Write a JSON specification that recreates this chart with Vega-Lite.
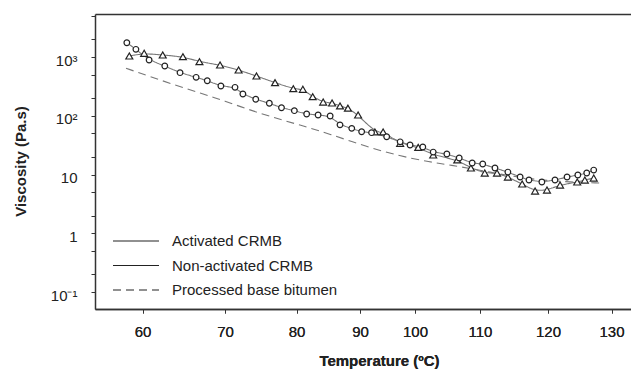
{
  "$schema": "https://vega.github.io/schema/vega-lite/v6.json",
  "width": 536,
  "height": 295,
  "autosize": {"type": "none"},
  "padding": {"left": 95, "top": 14, "right": 0, "bottom": 62},
  "background": "white",
  "config": {"view": {"stroke": null}, "font": "Liberation Sans"},
  "data": {"values": [
    {"series": "Activated CRMB", "temp": 58.4, "visc": 1040},
    {"series": "Activated CRMB", "temp": 60.2, "visc": 1156},
    {"series": "Activated CRMB", "temp": 62.45, "visc": 1081},
    {"series": "Activated CRMB", "temp": 64.9, "visc": 1012},
    {"series": "Activated CRMB", "temp": 66.9, "visc": 832},
    {"series": "Activated CRMB", "temp": 69.4, "visc": 731},
    {"series": "Activated CRMB", "temp": 71.9, "visc": 601},
    {"series": "Activated CRMB", "temp": 74.4, "visc": 475},
    {"series": "Activated CRMB", "temp": 77.0, "visc": 366},
    {"series": "Activated CRMB", "temp": 79.55, "visc": 289},
    {"series": "Activated CRMB", "temp": 81.0, "visc": 282},
    {"series": "Activated CRMB", "temp": 82.55, "visc": 211},
    {"series": "Activated CRMB", "temp": 84.2, "visc": 171},
    {"series": "Activated CRMB", "temp": 85.6, "visc": 165},
    {"series": "Activated CRMB", "temp": 86.85, "visc": 147},
    {"series": "Activated CRMB", "temp": 88.1, "visc": 135},
    {"series": "Activated CRMB", "temp": 89.7, "visc": 103},
    {"series": "Activated CRMB", "temp": 92.7, "visc": 53},
    {"series": "Activated CRMB", "temp": 94.2, "visc": 53},
    {"series": "Activated CRMB", "temp": 97.3, "visc": 34},
    {"series": "Activated CRMB", "temp": 100.5, "visc": 29},
    {"series": "Activated CRMB", "temp": 102.8, "visc": 21.5},
    {"series": "Activated CRMB", "temp": 106.5, "visc": 17.7},
    {"series": "Activated CRMB", "temp": 108.6, "visc": 12.9},
    {"series": "Activated CRMB", "temp": 110.7, "visc": 10.6},
    {"series": "Activated CRMB", "temp": 112.5, "visc": 10.6},
    {"series": "Activated CRMB", "temp": 114.1, "visc": 9.06},
    {"series": "Activated CRMB", "temp": 116.2, "visc": 6.89},
    {"series": "Activated CRMB", "temp": 118.1, "visc": 5.23},
    {"series": "Activated CRMB", "temp": 119.85, "visc": 5.44},
    {"series": "Activated CRMB", "temp": 121.9, "visc": 6.62},
    {"series": "Activated CRMB", "temp": 124.6, "visc": 7.45},
    {"series": "Activated CRMB", "temp": 125.8, "visc": 8.05},
    {"series": "Activated CRMB", "temp": 127.2, "visc": 8.71},
    {"series": "Non-activated CRMB", "temp": 58.1, "visc": 1750},
    {"series": "Non-activated CRMB", "temp": 59.2, "visc": 1352},
    {"series": "Non-activated CRMB", "temp": 60.8, "visc": 889},
    {"series": "Non-activated CRMB", "temp": 62.7, "visc": 703},
    {"series": "Non-activated CRMB", "temp": 64.55, "visc": 541},
    {"series": "Non-activated CRMB", "temp": 66.5, "visc": 451},
    {"series": "Non-activated CRMB", "temp": 67.85, "visc": 395},
    {"series": "Non-activated CRMB", "temp": 69.5, "visc": 321},
    {"series": "Non-activated CRMB", "temp": 71.4, "visc": 305},
    {"series": "Non-activated CRMB", "temp": 72.5, "visc": 235},
    {"series": "Non-activated CRMB", "temp": 74.3, "visc": 191},
    {"series": "Non-activated CRMB", "temp": 76.2, "visc": 163},
    {"series": "Non-activated CRMB", "temp": 77.9, "visc": 137},
    {"series": "Non-activated CRMB", "temp": 79.7, "visc": 122},
    {"series": "Non-activated CRMB", "temp": 81.6, "visc": 107},
    {"series": "Non-activated CRMB", "temp": 83.4, "visc": 103},
    {"series": "Non-activated CRMB", "temp": 85.3, "visc": 99},
    {"series": "Non-activated CRMB", "temp": 86.85, "visc": 70},
    {"series": "Non-activated CRMB", "temp": 88.7, "visc": 61},
    {"series": "Non-activated CRMB", "temp": 90.3, "visc": 53.5},
    {"series": "Non-activated CRMB", "temp": 92.1, "visc": 51.5},
    {"series": "Non-activated CRMB", "temp": 94.85, "visc": 44},
    {"series": "Non-activated CRMB", "temp": 97.3, "visc": 36},
    {"series": "Non-activated CRMB", "temp": 99.1, "visc": 31.8},
    {"series": "Non-activated CRMB", "temp": 101.2, "visc": 29.4},
    {"series": "Non-activated CRMB", "temp": 102.8, "visc": 24.1},
    {"series": "Non-activated CRMB", "temp": 104.9, "visc": 22.3},
    {"series": "Non-activated CRMB", "temp": 106.8, "visc": 19.1},
    {"series": "Non-activated CRMB", "temp": 108.8, "visc": 15.7},
    {"series": "Non-activated CRMB", "temp": 110.4, "visc": 15.1},
    {"series": "Non-activated CRMB", "temp": 112.2, "visc": 12.9},
    {"series": "Non-activated CRMB", "temp": 114.1, "visc": 11.0},
    {"series": "Non-activated CRMB", "temp": 115.9, "visc": 9.06},
    {"series": "Non-activated CRMB", "temp": 117.2, "visc": 8.05},
    {"series": "Non-activated CRMB", "temp": 119.1, "visc": 7.45},
    {"series": "Non-activated CRMB", "temp": 121.1, "visc": 8.05},
    {"series": "Non-activated CRMB", "temp": 123.0, "visc": 9.06},
    {"series": "Non-activated CRMB", "temp": 124.7, "visc": 9.8},
    {"series": "Non-activated CRMB", "temp": 126.1, "visc": 10.6},
    {"series": "Non-activated CRMB", "temp": 127.2, "visc": 11.9},
    {"series": "Processed base bitumen", "temp": 58.0, "visc": 643},
    {"series": "Processed base bitumen", "temp": 60.9, "visc": 466},
    {"series": "Processed base bitumen", "temp": 63.9, "visc": 334},
    {"series": "Processed base bitumen", "temp": 67.0, "visc": 244},
    {"series": "Processed base bitumen", "temp": 70.0, "visc": 178},
    {"series": "Processed base bitumen", "temp": 73.5, "visc": 125},
    {"series": "Processed base bitumen", "temp": 77.0, "visc": 91.6},
    {"series": "Processed base bitumen", "temp": 80.55, "visc": 69.7},
    {"series": "Processed base bitumen", "temp": 85.25, "visc": 48.9},
    {"series": "Processed base bitumen", "temp": 91.3, "visc": 29.4},
    {"series": "Processed base bitumen", "temp": 97.3, "visc": 20.6},
    {"series": "Processed base bitumen", "temp": 102.3, "visc": 16.3},
    {"series": "Processed base bitumen", "temp": 105.4, "visc": 14.5},
    {"series": "Processed base bitumen", "temp": 110.0, "visc": 11.9},
    {"series": "Processed base bitumen", "temp": 114.4, "visc": 9.42},
    {"series": "Processed base bitumen", "temp": 118.8, "visc": 8.05},
    {"series": "Processed base bitumen", "temp": 123.5, "visc": 7.45},
    {"series": "Processed base bitumen", "temp": 128.2, "visc": 7.16}
  ]},
  "encoding": {
    "x": {
      "field": "temp", "type": "quantitative",
      "scale": {"type": "linear", "domain": [54.24, 60, 70, 80, 90, 100, 110, 120, 130, 133], "range": [0, 47.5, 130, 201.5, 265, 320, 385, 453, 516.5, 536], "nice": false, "zero": false},
      "axis": {
        "title": "Temperature (ºC)", "values": [60, 70, 80, 90, 100, 110, 120, 130],
        "grid": false, "tickSize": 4, "tickColor": "#333", "domainColor": "#333", "domainWidth": 1.5,
        "labelFontSize": 15, "labelColor": "#222", "labelPadding": 11, "labelFont": "Liberation Sans",
        "titleFontSize": 15, "titleFontWeight": "bold", "titleColor": "#222", "titleFont": "Liberation Sans",
        "titleX": 284, "titleY": 44, "titleAlign": "center", "titleBaseline": "top"
      }
    },
    "y": {
      "field": "visc", "type": "quantitative",
      "scale": {"type": "log", "domain": [0.0514, 5395], "nice": false},
      "axis": {
        "title": "Viscosity (Pa.s)",
        "values": [0.1, 0.2, 0.5, 1, 2, 5, 10, 20, 50, 100, 200, 500, 1000, 2000, 5000],
        "labelExpr": "datum.value == 1000 ? '10³' : datum.value == 100 ? '10²' : datum.value == 10 ? '10' : datum.value == 1 ? '1' : datum.value == 0.1 ? '10⁻¹' : ''",
        "grid": false, "tickSize": 4, "tickColor": "#333", "domainColor": "#333", "domainWidth": 1.5,
        "labelFontSize": 15, "labelColor": "#222", "labelPadding": 14, "labelOffset": 3, "labelFont": "Liberation Sans",
        "titleFontSize": 15, "titleFontWeight": "bold", "titleColor": "#222", "titleFont": "Liberation Sans",
        "titleX": -67, "titleY": 147, "titleAngle": 270, "titleAlign": "center", "titleBaseline": "bottom"
      }
    }
  },
  "layer": [
    {
      "mark": {"type": "line", "interpolate": "basis", "strokeWidth": 1.1, "color": "#777777"},
      "encoding": {
        "strokeDash": {
          "field": "series", "type": "nominal",
          "scale": {"domain": ["Activated CRMB", "Non-activated CRMB", "Processed base bitumen"], "range": [[1, 0], [1, 0], [8, 5]]},
          "legend": {
            "orient": "none", "legendX": 17, "legendY": 216, "title": null, "padding": 0,
            "symbolType": "stroke", "symbolSize": 2116, "clipHeight": 22, "rowPadding": 2.5,
            "labelFontSize": 15, "labelColor": "#222", "labelOffset": 12, "labelFont": "Liberation Sans", "labelLimit": 300,
            "symbolStrokeColor": "#222", "symbolStrokeWidth": 1.1
          }
        }
      }
    },
    {
      "transform": [{"filter": "datum.series === 'Activated CRMB'"}],
      "mark": {"type": "point", "shape": "triangle-up", "size": 48, "filled": true, "fill": "white", "stroke": "#222", "strokeWidth": 1.2, "opacity": 1},
      "encoding": {
        "x": {
          "field": "temp", "type": "quantitative",
          "scale": {"type": "linear", "domain": [54.24, 60, 70, 80, 90, 100, 110, 120, 130, 133], "range": [0, 47.5, 130, 201.5, 265, 320, 385, 453, 516.5, 536], "nice": false, "zero": false},
          "axis": {"orient": "top", "labels": false, "ticks": false, "title": null, "grid": false, "domainColor": "#333", "domainWidth": 1.5}
        }
      }
    },
    {
      "transform": [{"filter": "datum.series === 'Non-activated CRMB'"}],
      "mark": {"type": "point", "shape": "circle", "size": 32, "filled": true, "fill": "white", "stroke": "#222", "strokeWidth": 1.2, "opacity": 1}
    }
  ],
  "resolve": {"axis": {"x": "independent"}}
}
